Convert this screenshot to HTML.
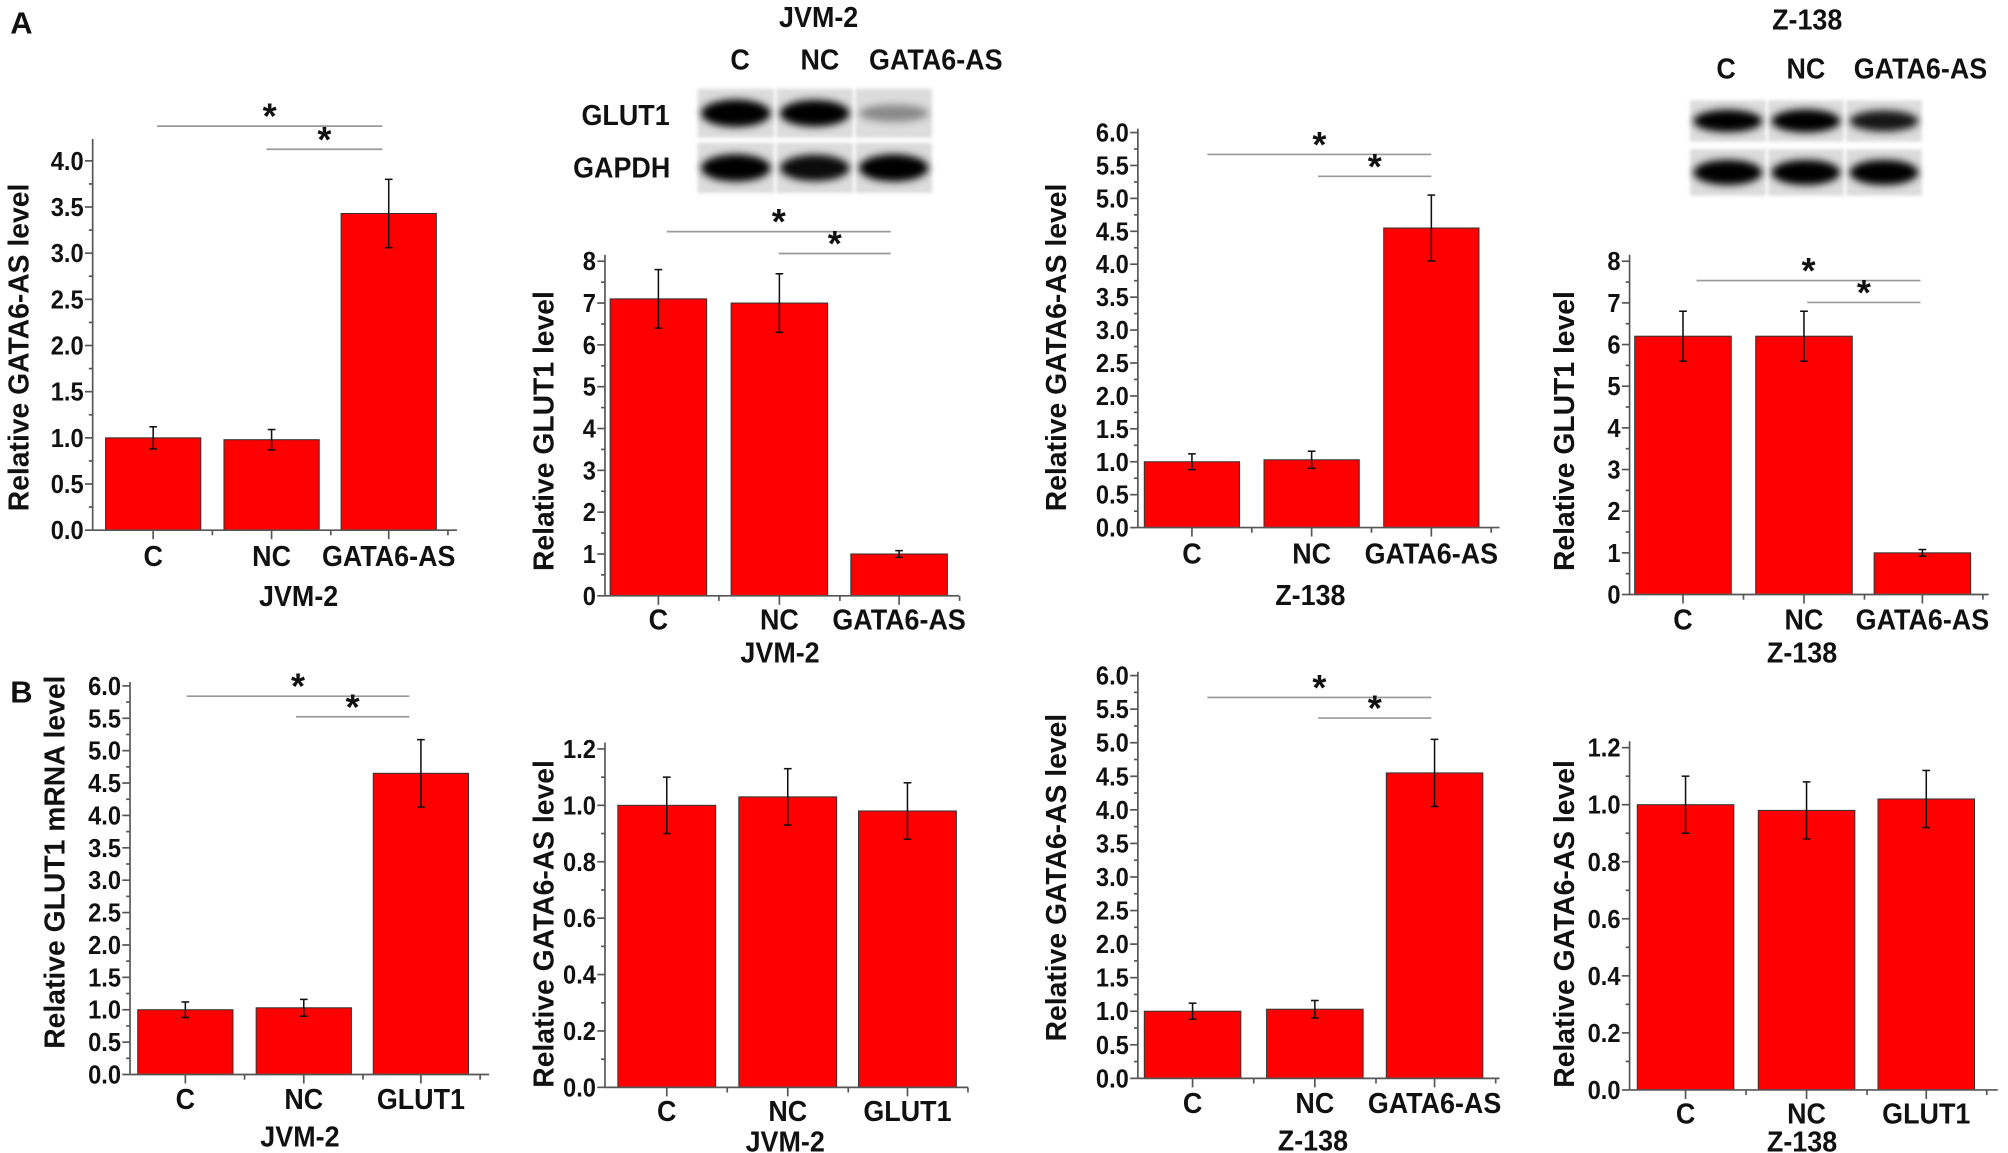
<!DOCTYPE html>
<html><head><meta charset="utf-8">
<style>
html,body{margin:0;padding:0;background:#fff;}
svg{display:block;}
text{font-family:"Liberation Sans Narrow","Liberation Sans",sans-serif;font-weight:bold;fill:#111;}
</style></head>
<body>
<svg id="fig" width="2008" height="1153" viewBox="0 0 1560 896" preserveAspectRatio="none" xmlns="http://www.w3.org/2000/svg">
<defs>
<filter id="blur" x="-20%" y="-50%" width="140%" height="200%"><feGaussianBlur stdDeviation="3"/></filter>
<filter id="blur2" x="-10%" y="-10%" width="120%" height="120%"><feGaussianBlur stdDeviation="1.5"/></filter>
</defs>
<text x="8" y="26" font-size="24">A</text>
<text x="8" y="546" font-size="24">B</text>
<g id="blots"></g>
</svg>
<script>
// ---- data arrays ----
const categoriesA = ["C", "NC", "GATA6-AS"];
const categoriesB = ["C", "NC", "GLUT1"];
const a1Values = [1.0, 0.98, 3.43];
const a1Errors = [0.12, 0.11, 0.37];
const a2Values = [7.1, 7.0, 1.0];
const a2Errors = [0.7, 0.7, 0.08];
const a3Values = [1.0, 1.03, 4.55];
const a3Errors = [0.12, 0.13, 0.5];
const a4Values = [6.2, 6.2, 1.0];
const a4Errors = [0.6, 0.6, 0.08];
const b1Values = [1.0, 1.03, 4.65];
const b1Errors = [0.12, 0.13, 0.52];
const b2Values = [1.0, 1.03, 0.98];
const b2Errors = [0.1, 0.1, 0.1];
const b3Values = [1.0, 1.03, 4.55];
const b3Errors = [0.12, 0.13, 0.5];
const b4Values = [1.0, 0.98, 1.02];
const b4Errors = [0.1, 0.1, 0.1];
const ticks60 = ["0.0","0.5","1.0","1.5","2.0","2.5","3.0","3.5","4.0","4.5","5.0","5.5","6.0"];
const ticks40 = ["0.0","0.5","1.0","1.5","2.0","2.5","3.0","3.5","4.0"];
const ticks8 = ["0","1","2","3","4","5","6","7","8"];
const ticks12 = ["0.0","0.2","0.4","0.6","0.8","1.0","1.2"];

const NS = "http://www.w3.org/2000/svg";
const svg = document.getElementById('fig');
function mk(tag, attrs, parent){
  const e = document.createElementNS(NS, tag);
  for (const k in attrs) e.setAttribute(k, attrs[k]);
  (parent || svg).appendChild(e);
  return e;
}
function txt(x, y, s, size, anchor, parent, sx, rot){
  const t = mk('text', {x:0, y:0, 'font-size':size, 'text-anchor':anchor||'middle',
    transform:'translate(' + x + ' ' + y + ')' + (rot ? ' rotate(' + rot + ')' : '') + ' scale(' + (sx||1) + ' 1)'}, parent);
  t.textContent = s;
  return t;
}

const panels = [
  {id:'a1', cats:categoriesA, vals:a1Values, errs:a1Errors, ticks:ticks40, x0:72, x1:355, y0:412, yTop:125, axTop:108, bx:[82,174,265], bw:74, ylab:'Relative GATA6-AS level', yl:{x:14,y:270}, title:'JVM-2', tx:232, ty:471, ly:440, sig:[[122,297,98],[207,297,116]]},
  {id:'a2', cats:categoriesA, vals:a2Values, errs:a2Errors, ticks:ticks8, x0:470, x1:745, y0:463, yTop:203, axTop:198, bx:[474,568,661], bw:75, ylab:'Relative GLUT1 level', yl:{x:422,y:335}, title:'JVM-2', tx:606, ty:515, ly:489, sig:[[518,692,180],[605,692,197]]},
  {id:'a3', cats:categoriesA, vals:a3Values, errs:a3Errors, ticks:ticks60, x0:884, x1:1165, y0:410, yTop:103, axTop:100, bx:[889,982,1075], bw:74, ylab:'Relative GATA6-AS level', yl:{x:820,y:270}, title:'Z-138', tx:1018, ty:470, ly:438, sig:[[938,1112,120],[1024,1112,137]]},
  {id:'a4', cats:categoriesA, vals:a4Values, errs:a4Errors, ticks:ticks8, x0:1266, x1:1545, y0:462, yTop:203, axTop:198, bx:[1270,1364,1456], bw:75, ylab:'Relative GLUT1 level', yl:{x:1215,y:335}, title:'Z-138', tx:1400, ty:515, ly:489, sig:[[1318,1492,218],[1404,1492,235]]},
  {id:'b1', cats:categoriesB, vals:b1Values, errs:b1Errors, ticks:ticks60, x0:101, x1:380, y0:835, yTop:533, axTop:530, bx:[107,199,290], bw:74, ylab:'Relative GLUT1 mRNA level', yl:{x:42,y:670}, title:'JVM-2', tx:233, ty:891, ly:862, sig:[[145,318,541],[230,318,557]]},
  {id:'b2', cats:categoriesB, vals:b2Values, errs:b2Errors, ticks:ticks12, x0:470, x1:752, y0:845, yTop:582, axTop:577, bx:[480,574,667], bw:76, ylab:'Relative GATA6-AS level', yl:{x:422,y:718}, title:'JVM-2', tx:610, ty:895, ly:871, sig:[]},
  {id:'b3', cats:categoriesA, vals:b3Values, errs:b3Errors, ticks:ticks60, x0:884, x1:1165, y0:838, yTop:525, axTop:522, bx:[889,984,1077], bw:75, ylab:'Relative GATA6-AS level', yl:{x:820,y:682}, title:'Z-138', tx:1020, ty:894, ly:865, sig:[[938,1112,542],[1024,1112,558]]},
  {id:'b4', cats:categoriesB, vals:b4Values, errs:b4Errors, ticks:ticks12, x0:1266, x1:1552, y0:847, yTop:581, axTop:576, bx:[1272,1366,1459], bw:75, ylab:'Relative GATA6-AS level', yl:{x:1215,y:718}, title:'Z-138', tx:1400, ty:895, ly:873, sig:[]}
];

panels.forEach(p => {
  const g = mk('g', {});
  
  
  const tmax = parseFloat(p.ticks[p.ticks.length-1]);
  const y = v => p.y0 - (v / tmax) * (p.y0 - p.yTop);
  const n = p.ticks.length;
  p.vals.forEach((v, i) => {
    const r = mk('rect', {x:p.bx[i], y:y(v), width:p.bw, height:p.y0 - y(v), fill:'#ff0000', stroke:'#333', 'stroke-width':0.8}, g);
    
    
    const cx = p.bx[i] + p.bw/2;
    const eg = mk('g', {stroke:'#111', 'stroke-width':1.2}, g);
    
    
    mk('line', {x1:cx, x2:cx, y1:y(v + p.errs[i]), y2:y(v - p.errs[i])}, eg);
    mk('line', {x1:cx-3, x2:cx+3, y1:y(v + p.errs[i]), y2:y(v + p.errs[i])}, eg);
    mk('line', {x1:cx-3, x2:cx+3, y1:y(v - p.errs[i]), y2:y(v - p.errs[i])}, eg);
    const cl = txt(cx, p.ly, p.cats[i], 22, 'middle', g, 0.95);
    
    
  });
  const ax = mk('g', {stroke:'#555', 'stroke-width':1.3}, g);
  
  
  mk('line', {x1:p.x0, x2:p.x0, y1:p.axTop, y2:p.y0}, ax);
  mk('line', {x1:p.x0, x2:p.x1, y1:p.y0, y2:p.y0}, ax);
  for (let k = 0; k < n; k++) {
    const v = parseFloat(p.ticks[k]);
    mk('line', {x1:p.x0-6, x2:p.x0, y1:y(v), y2:y(v)}, ax);
    if (k < n-1) {
      const vm = (v + parseFloat(p.ticks[k+1])) / 2;
      mk('line', {x1:p.x0-3, x2:p.x0, y1:y(vm), y2:y(vm)}, ax);
    }
    const tl = txt(p.x0-7, y(v)+7, p.ticks[k], 20, 'end', g, 0.92);
    
    
  }
  const step = p.bx[1] - p.bx[0];
  for (let i = 0; i < 3; i++) {
    const cx = p.bx[i] + p.bw/2;
    mk('line', {x1:cx, x2:cx, y1:p.y0, y2:p.y0+7}, ax);
    mk('line', {x1:cx + step/2, x2:cx + step/2, y1:p.y0, y2:p.y0+4}, ax);
  }
  const yl = txt(p.yl.x + 8, p.yl.y, p.ylab, 22, 'middle', g, 1, -90);
  
  
  const xt = txt(p.tx, p.ty, p.title, 22, 'middle', g, 0.95);
  
  
  p.sig.forEach(s => {
    const sl = mk('line', {x1:s[0], x2:s[1], y1:s[2], y2:s[2], stroke:'#999', 'stroke-width':1.3}, g);
    
    
    const st = txt((s[0]+s[1])/2, s[2]+2, '*', 28, 'middle', g, 1);
    
    
  });
});

// ---- western blots ----
const blotIntensityJ1 = [1.0, 0.95, 0.35];
const blotIntensityJ2 = [0.95, 0.9, 0.95];
const blotIntensityZ1 = [0.95, 1.0, 0.85];
const blotIntensityZ2 = [0.95, 0.95, 0.95];
const blots = document.getElementById('blots');
function blot(name, x0, x1, y0, y1, inten){
  const g = mk('g', {}, blots);
  
  
  const w = (x1 - x0) / 3;
  for (let i = 0; i < 3; i++) {
    mk('rect', {x:x0 + i*w + 1, y:y0, width:w-2, height:y1-y0, fill:'#dcdcdc', filter:'url(#blur2)'}, g);
    const a = inten[i];
    mk('ellipse', {cx:x0 + i*w + w/2, cy:(y0+y1)/2, rx:w*0.44, ry:(y1-y0)*(0.12 + 0.16*a), fill:'#000', opacity:Math.min(1, a*1.05), filter:'url(#blur)'}, g);
  }
}
blot('blot-jvm2-glut1', 541, 725, 69, 107, blotIntensityJ1);
blot('blot-jvm2-gapdh', 541, 725, 111, 150, blotIntensityJ2);
blot('blot-z138-glut1', 1312, 1494, 78, 110, blotIntensityZ1);
blot('blot-z138-gapdh', 1312, 1494, 116, 152, blotIntensityZ2);

const blotLabels = [
  ['JVM-2', 636, 21], ['C', 575, 54], ['NC', 637, 54], ['GATA6-AS', 727, 54],
  ['GLUT1', 486, 97], ['GAPDH', 483, 138],
  ['Z-138', 1404, 23], ['C', 1341, 61], ['NC', 1403, 61], ['GATA6-AS', 1492, 61]
];
blotLabels.forEach(b => {
  const t = txt(b[1], b[2], b[0], 22, 'middle', blots, 0.95);
  
  
});
</script>
</body></html>
